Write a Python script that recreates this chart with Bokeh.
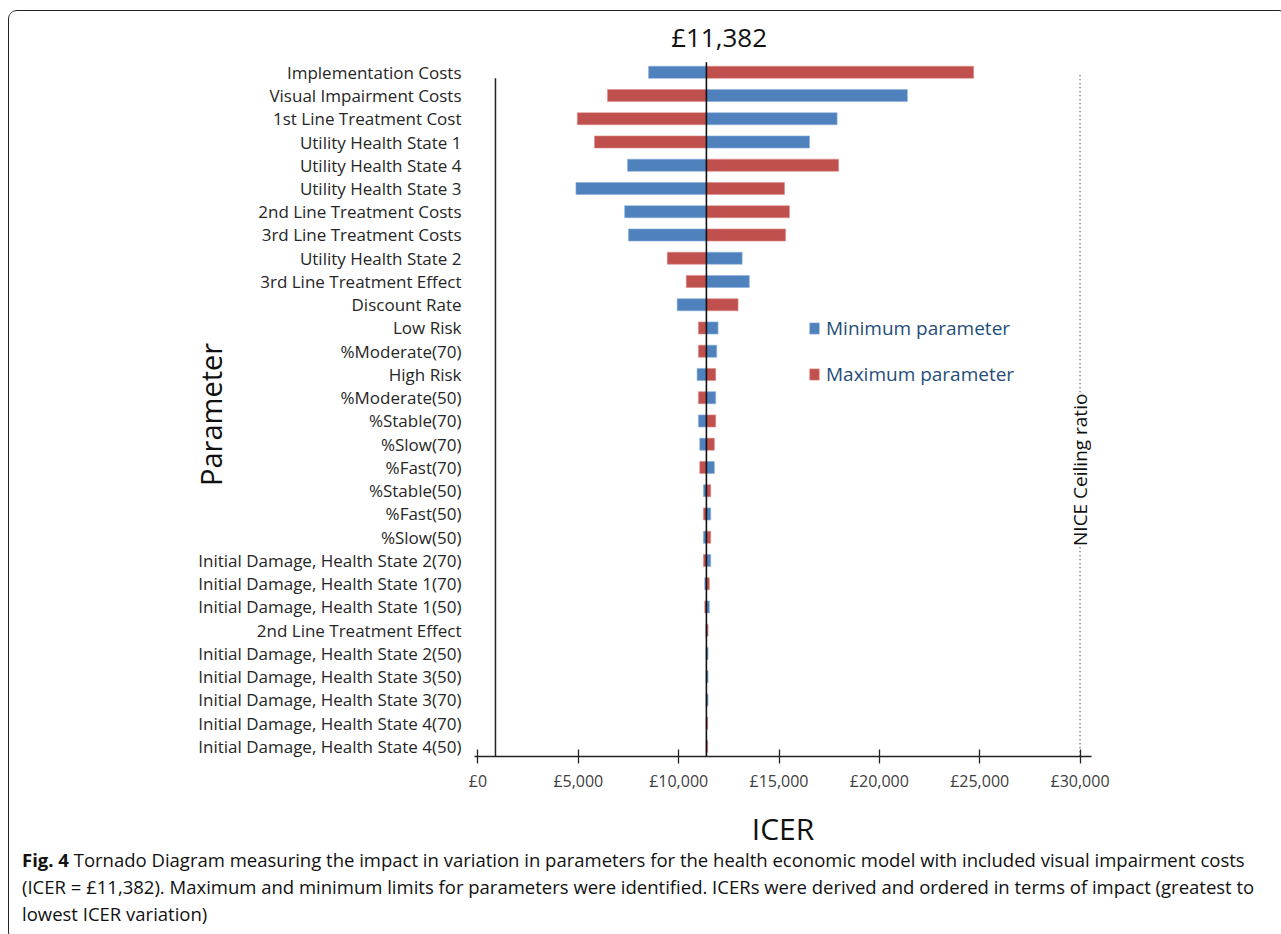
import numpy as np
from bokeh.plotting import figure
from bokeh.layouts import column
from bokeh.models import (Range1d, FixedTicker, Label, Legend, LegendItem,
                          ColumnDataSource, Div)
from bokeh.embed import file_html
from bokeh.resources import INLINE

# ---------------- data ----------------
parameters = [
    "Implementation Costs", "Visual Impairment Costs", "1st Line Treatment Cost",
    "Utility Health State 1", "Utility Health State 4", "Utility Health State 3",
    "2nd Line Treatment Costs", "3rd Line Treatment Costs", "Utility Health State 2",
    "3rd Line Treatment Effect", "Discount Rate", "Low Risk", "%Moderate(70)",
    "High Risk", "%Moderate(50)", "%Stable(70)", "%Slow(70)", "%Fast(70)",
    "%Stable(50)", "%Fast(50)", "%Slow(50)",
    "Initial Damage, Health State 2(70)", "Initial Damage, Health State 1(70)",
    "Initial Damage, Health State 1(50)", "2nd Line Treatment Effect",
    "Initial Damage, Health State 2(50)", "Initial Damage, Health State 3(50)",
    "Initial Damage, Health State 3(70)", "Initial Damage, Health State 4(70)",
    "Initial Damage, Health State 4(50)",
]
min_icer = [8500, 21398, 17896, 16522, 7453, 4881, 7308, 7502, 13164, 13522,
            9925, 11962, 11896, 10918, 11846, 10984, 11050, 11780, 11233, 11597,
            11233, 11597, 11299, 11531, 11360, 11465, 11465, 11465, 11370, 11370]
max_icer = [24700, 6453, 4950, 5806, 17970, 15274, 15522, 15328, 9433, 10378,
            12960, 10984, 10984, 11846, 10984, 11846, 11780, 11050, 11597, 11233,
            11597, 11233, 11531, 11299, 11465, 11370, 11370, 11370, 11450, 11450]
base_icer = 11382
nice_ceiling = 30000
x_ticks = [0, 5000, 10000, 15000, 20000, 25000, 30000]
x_tick_labels = ["£0", "£5,000", "£10,000", "£15,000", "£20,000", "£25,000", "£30,000"]

caption_bold = "Fig. 4"
caption_lines = [
    "Tornado Diagram measuring the impact in variation in parameters for the health economic model with included visual impairment costs",
    "(ICER = £11,382). Maximum and minimum limits for parameters were identified. ICERs were derived and ordered in terms of impact (greatest to",
    "lowest ICER variation)",
]

# ---------------- build ----------------
n = len(parameters)
ypos = [n - i for i in range(n)]
mins = np.array(min_icer, dtype=float)
maxs = np.array(max_icer, dtype=float)

src_min = ColumnDataSource(dict(y=ypos, left=np.minimum(mins, base_icer), right=np.maximum(mins, base_icer)))
src_max = ColumnDataSource(dict(y=ypos, left=np.minimum(maxs, base_icer), right=np.maximum(maxs, base_icer)))

FONT = "Open Sans"
W = 1268
Y0, Y1 = 0.567, 32.27

p = figure(width=W, height=841, output_backend="svg", toolbar_location=None,
           x_range=Range1d(-174, 30572), y_range=Range1d(Y0, Y1),
           min_border_left=465, min_border_top=8, min_border_right=186, min_border_bottom=96)
p.outline_line_color = None
p.grid.grid_line_color = None
p.background_fill_color = "white"
p.border_fill_color = "white"

r_min = p.hbar(y="y", left="left", right="right", height=0.52, source=src_min,
               fill_color="#4F81BD", line_color="#8DB0DC", line_width=0.6)
r_max = p.hbar(y="y", left="left", right="right", height=0.52, source=src_max,
               fill_color="#C0504D", line_color="#DC8E8C", line_width=0.6)

# x axis
xa = p.xaxis[0]
xa.ticker = FixedTicker(ticks=x_ticks)
xa.major_label_overrides = {t: l for t, l in zip(x_ticks, x_tick_labels)}
xa.axis_line_color = "#222"
xa.axis_line_width = 1.3
xa.major_tick_line_color = "#222"
xa.major_tick_line_width = 1.3
xa.major_tick_in = 7
xa.major_tick_out = 7
xa.minor_tick_line_color = None
xa.major_label_text_font = FONT
xa.major_label_text_font_size = "16px"
xa.major_label_text_color = "#404040"
xa.major_label_standoff = 6
xa.axis_label = "ICER"
xa.axis_label_text_font = FONT
xa.axis_label_text_font_size = "30px"
xa.axis_label_text_font_style = "normal"
xa.axis_label_text_color = "#111"
xa.axis_label_standoff = 13

# y axis (category labels)
ya = p.yaxis[0]
ya.ticker = FixedTicker(ticks=ypos)
ya.major_label_overrides = {y: name for y, name in zip(ypos, parameters)}
ya.axis_line_color = None
ya.major_tick_line_color = None
ya.minor_tick_line_color = None
ya.major_tick_out = 0
ya.major_tick_in = 0
ya.major_label_standoff = 13
ya.major_label_text_font = FONT
ya.major_label_text_font_size = "17px"
ya.major_label_text_color = "#262626"
ya.axis_label = "Parameter" + "\u00a0" * 7
ya.axis_label_text_font = FONT
ya.axis_label_text_font_size = "29px"
ya.axis_label_text_font_style = "normal"
ya.axis_label_text_color = "#111"
ya.axis_label_standoff = -35

# vertical axis line (as in the original)
p.segment(x0=[871], y0=[29.74], x1=[871], y1=[Y0], line_color="#222", line_width=1.5)
# NICE ceiling dotted line
p.segment(x0=[nice_ceiling], y0=[29.87], x1=[nice_ceiling], y1=[Y0],
          line_color="#555", line_width=1.5, line_dash="1 3")
# base ICER line
p.segment(x0=[base_icer], y0=[30.43], x1=[base_icer], y1=[Y0], line_color="#111", line_width=1.6)

p.add_layout(Label(x=nice_ceiling, y=12.9, text="NICE Ceiling ratio", angle=np.pi / 2,
                   text_align="center", text_baseline="middle", text_font=FONT,
                   text_font_size="19px", text_color="#111",
                   background_fill_color="white", background_fill_alpha=1.0))

# base ICER value above the bars
p.add_layout(Label(x=12015, y=31.52, text="£11,382", text_align="center", text_baseline="middle",
                   text_font=FONT, text_font_size="26px", text_color="#111"))

# legend
legend = Legend(items=[LegendItem(label="Minimum parameter", renderers=[r_min]),
                       LegendItem(label="Maximum parameter", renderers=[r_max])],
                location=(334, 369), orientation="vertical", padding=0, margin=0,
                spacing=20, glyph_width=12, glyph_height=14, label_height=20,
                label_standoff=6, border_line_color=None, background_fill_alpha=0,
                label_text_font=FONT, label_text_font_size="19px", label_text_color="#1F4E79")
p.add_layout(legend)

cap_html = (
    '<div style="font-family: \'Open Sans\'; font-size: 18.5px; line-height: 27px; color: #111; '
    'padding: 0 0 0 8px; margin-top: -11px; white-space: nowrap;">'
    f'<b>{caption_bold}</b> {caption_lines[0]}<br>{caption_lines[1]}<br>{caption_lines[2]}</div>'
)
cap = Div(text=cap_html, width=W, height=78)

layout = column(p, cap, styles={"border": "1.5px solid #222", "border-radius": "9px",
                                "margin-left": "8px", "margin-top": "10px",
                                "overflow": "hidden", "background": "white"})

open("out.html", "w").write(file_html(layout, INLINE))
